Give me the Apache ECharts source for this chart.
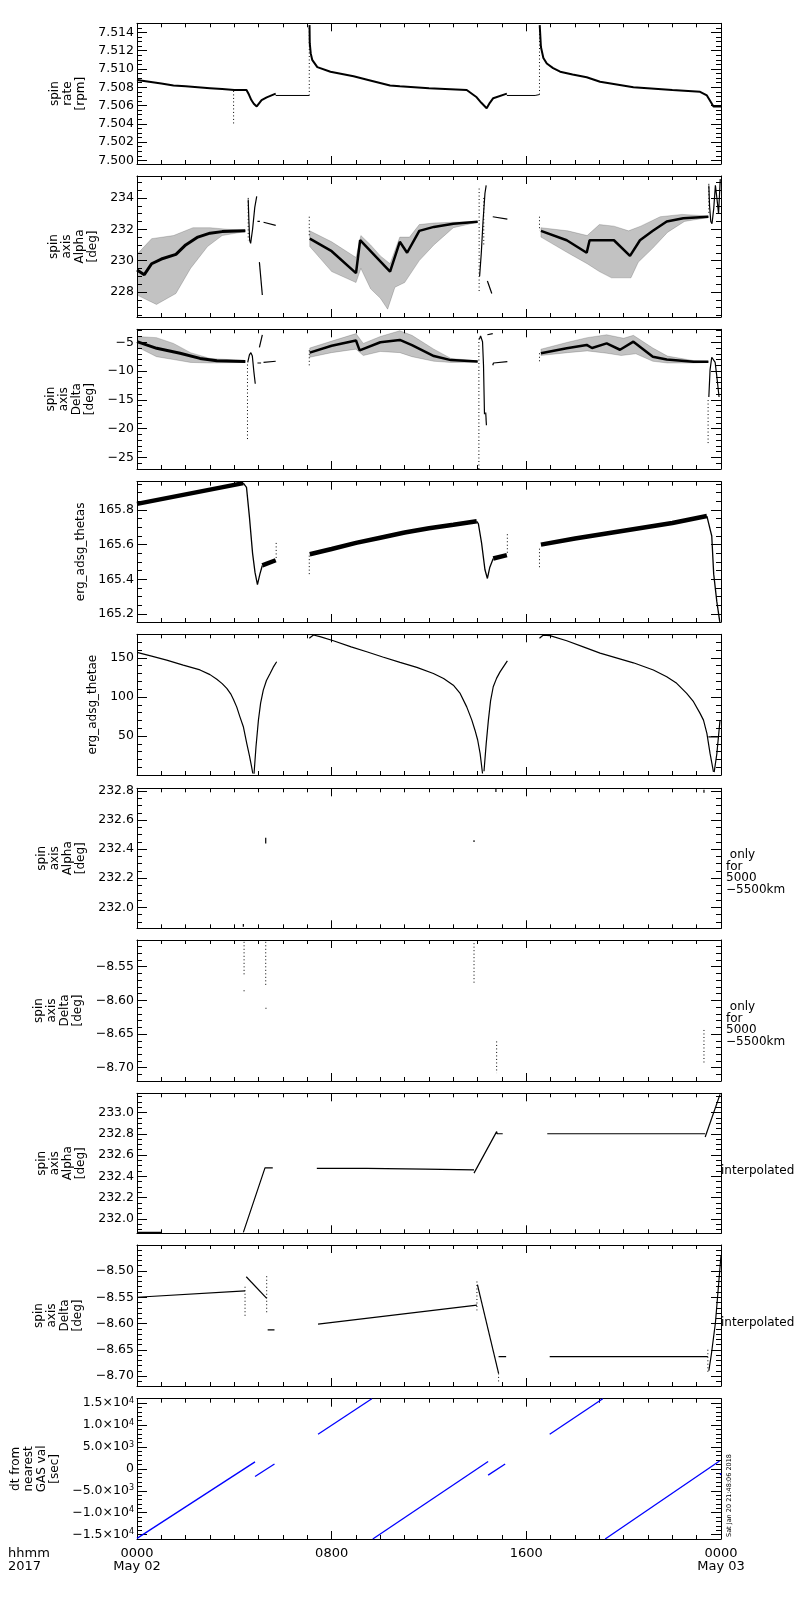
<!DOCTYPE html>
<html><head><meta charset="utf-8">
<script src="https://cdn.jsdelivr.net/npm/echarts@6/dist/echarts.min.js"></script>
<style>html,body{margin:0;padding:0;background:#fff}#c{width:800px;height:1600px}</style>
</head><body><div id="c"></div>
<script>
// ---------------- x axis (hours of 2017 May 02) ----------------
const xTickLabels = {0:'0000\nMay 02', 8:'0800', 16:'1600', 24:'0000\nMay 03'};

// ---------------- panel 1: spin rate [rpm] ----------------
const rateA = [[0,7.5088],[0.5,7.5086],[1,7.5084],[1.5,7.5082],[2,7.5081],[2.5,7.5080],[3,7.5079],[3.5,7.5078],[4,7.5077],[4.5,7.5077],[4.6,7.5072],[4.7,7.5066],[4.8,7.5062],[4.92,7.5059],[5.0,7.5061],[5.12,7.5066],[5.33,7.5069],[5.7,7.5073]];
const rateFlat1 = [[5.7,7.5071],[7.08,7.5071]];
const rateB = [[7.09,7.5148],[7.1,7.5128],[7.14,7.5117],[7.2,7.5110],[7.41,7.5102],[7.95,7.5097],[8.9,7.5092],[9.5,7.5088],[10.4,7.5082],[10.8,7.5081],[12,7.5079],[13.55,7.5077],[13.96,7.5069],[14.15,7.5063],[14.37,7.5057],[14.5,7.5063],[14.64,7.5068],[15.2,7.5073]];
const rateFlat2 = [[15.2,7.5071],[16.36,7.5071],[16.54,7.5072]];
const rateC = [[16.55,7.5148],[16.6,7.5124],[16.7,7.5112],[16.84,7.5106],[17.1,7.5101],[17.39,7.5097],[17.9,7.5094],[18.48,7.5091],[19.03,7.5086],[20.4,7.5080],[22,7.5077],[23.14,7.5075],[23.42,7.5071],[23.6,7.5063],[23.69,7.5059],[24,7.5059]];
const rateDots = [[[3.97,7.5076],[3.97,7.5040]],[[7.08,7.5071],[7.08,7.5148]],[[16.54,7.5072],[16.54,7.5148]]];

// ---------------- panel 2: spin axis Alpha [deg] ----------------
const alphaUpA = [[0,230.4],[0.6,231.4],[1.5,231.6],[2.3,232.1],[3,232.1],[3.7,232.0],[4.45,231.95]];
const alphaLoA = [[0,227.8],[0.8,227.2],[1.6,227.9],[2.2,229.5],[2.9,230.9],[3.5,231.6],[4.45,231.85]];
const alphaMidA = [[0,229.4],[0.3,229.1],[0.6,229.8],[1.0,230.1],[1.6,230.4],[2.0,231.0],[2.5,231.5],[3.0,231.75],[3.5,231.85],[4.45,231.9]];
const alphaUpB = [[7.1,231.9],[8,231.2],[9,230.2],[9.2,231.6],[9.6,231.0],[10,230.3],[10.4,229.8],[10.8,231.5],[11.2,231.5],[11.6,232.3],[12.2,232.4],[13,232.45],[14,232.5]];
const alphaLoB = [[7.1,230.9],[8,229.3],[9,228.6],[9.2,229.5],[9.6,228.2],[10,227.6],[10.3,226.9],[10.6,228.3],[11,228.6],[11.6,230.0],[12.2,231.0],[13,232.1],[14,232.45]];
const alphaMidB = [[7.1,231.4],[8,230.6],[9,229.2],[9.17,231.3],[10.4,229.3],[10.8,231.2],[11.1,230.5],[11.6,231.9],[12.2,232.15],[13,232.35],[14,232.48]];
const alphaUpC = [[16.6,232.1],[17.7,231.9],[18.5,231.6],[19,232.3],[19.6,232.2],[20.2,231.9],[20.7,232.2],[21.5,232.8],[22.4,232.95],[23.48,232.85]];
const alphaLoC = [[16.6,231.5],[17.7,230.5],[18.5,229.8],[19,229.3],[19.5,228.9],[20.3,228.9],[20.6,229.9],[21.2,230.8],[21.8,231.8],[22.5,232.5],[23.48,232.75]];
const alphaMidC = [[16.6,231.9],[17.66,231.3],[18.48,230.5],[18.6,231.3],[19.6,231.3],[20.26,230.3],[20.67,231.3],[21.2,231.9],[21.77,232.5],[22.45,232.7],[23.48,232.8]];
const alphaLines = [
  [[4.57,233.9],[4.6,232.5],[4.63,231.3],[4.67,231.1],[4.75,232.0],[4.84,233.4],[4.92,234.1]],
  [[4.95,232.5],[5.05,232.5]],
  [[5.2,232.45],[5.7,232.25]],
  [[5.03,229.9],[5.15,227.8]],
  [[14.08,229.0],[14.15,230.5],[14.22,232.5],[14.3,234.3],[14.35,234.8]],
  [[14.4,228.7],[14.58,227.9]],
  [[14.62,232.8],[15.22,232.65]],
  [[23.5,234.8],[23.53,233.5],[23.58,232.5],[23.63,232.35],[23.7,233.3],[23.77,234.8],[23.83,234.0],[23.9,233.0],[23.97,235.2]]
];
const alphaDots = [[[4.57,234.0],[4.57,231.3]],[[7.08,232.8],[7.08,231.5]],[[14.06,234.6],[14.06,228.0]],[[14.25,234.0],[14.25,231.0]],[[16.54,232.8],[16.54,231.9]],[[23.5,234.9],[23.5,232.9]]];

// ---------------- panel 3: spin axis Delta [deg] ----------------
const deltaUpA = [[0,-4.0],[0.8,-4.2],[1.5,-5.2],[2.2,-6.8],[3,-7.8],[4.45,-8.2]];
const deltaLoA = [[0,-5.8],[0.8,-7.5],[1.5,-8.0],[2.2,-8.5],[3,-8.6],[4.45,-8.5]];
const deltaMidA = [[0,-4.9],[0.81,-6.05],[1.77,-6.9],[2.59,-7.8],[3.28,-8.2],[4.45,-8.35]];
const deltaUpB = [[7.1,-6.0],[8,-4.8],[9,-3.5],[9.3,-5.2],[10,-4.0],[10.8,-3.0],[11.3,-3.8],[12.2,-6.2],[12.9,-7.8],[14,-8.25]];
const deltaLoB = [[7.1,-7.6],[8,-6.8],[9,-6.2],[9.3,-7.3],[10,-6.6],[10.8,-6.8],[11.3,-7.5],[12.2,-8.3],[12.9,-8.5],[14,-8.45]];
const deltaMidB = [[7.1,-6.8],[8,-5.6],[9,-4.7],[9.15,-6.4],[10,-5.0],[10.8,-4.6],[11.3,-5.5],[12.2,-7.4],[12.9,-8.1],[14,-8.35]];
const deltaUpC = [[16.6,-6.2],[17.7,-5.0],[18.5,-4.2],[19.3,-3.7],[20.0,-4.3],[20.4,-3.8],[21.2,-6.0],[21.8,-7.4],[22.9,-8.2],[23.48,-8.3]];
const deltaLoC = [[16.6,-7.3],[17.7,-6.8],[18.5,-6.5],[19.3,-6.9],[19.9,-7.3],[20.5,-7.0],[21.2,-8.3],[21.8,-8.6],[22.9,-8.6],[23.48,-8.5]];
const deltaMidC = [[16.6,-6.9],[17.66,-6.05],[18.48,-5.46],[18.7,-6.0],[19.3,-5.2],[19.85,-6.3],[20.4,-4.9],[21.2,-7.5],[21.77,-8.0],[22.87,-8.4],[23.48,-8.4]];
const deltaLines = [
  [[4.55,-8.5],[4.62,-7.2],[4.68,-6.8],[4.74,-7.4],[4.8,-10.0],[4.86,-12.2]],
  [[5.03,-5.9],[5.15,-3.7]],
  [[4.95,-8.6],[5.1,-8.6]],
  [[5.2,-8.5],[5.7,-8.3]],
  [[14.07,-4.5],[14.12,-3.9],[14.2,-4.9],[14.24,-9.0],[14.28,-17.5]],
  [[14.33,-17.2],[14.36,-19.4]],
  [[14.4,-3.7],[14.62,-3.5]],
  [[14.62,-9.0],[14.65,-8.6],[15.22,-8.35]],
  [[23.5,-14.5],[23.55,-9.8],[23.62,-7.6],[23.69,-7.4],[23.76,-8.5],[23.83,-11.0],[23.92,-14.5]]
];
const deltaDots = [[[4.54,-21.8],[4.54,-8.5]],[[7.08,-9.0],[7.08,-6.4]],[[14.05,-27.0],[14.05,-4.3]],[[16.54,-8.3],[16.54,-6.5]],[[23.47,-22.5],[23.47,-14.7]]];

// ---------------- panel 4: erg_adsg_thetas ----------------
const thetasBand = [
  [[0,165.835],[4.37,165.955]],
  [[5.15,165.48],[5.7,165.51]],
  [[7.1,165.545],[8,165.575],[9,165.61],[10,165.64],[11,165.67],[12,165.695],[13,165.715],[13.96,165.735]],
  [[14.64,165.52],[15.2,165.54]],
  [[16.6,165.60],[18,165.635],[20,165.68],[22,165.725],[23.42,165.765]]
];
const thetasDrop = [
  [[4.37,165.955],[4.5,165.93],[4.62,165.76],[4.75,165.55],[4.85,165.44],[4.95,165.37],[5.0,165.36],[5.05,165.43],[5.15,165.48]],
  [[13.96,165.735],[14.03,165.72],[14.16,165.61],[14.3,165.455],[14.4,165.405],[14.5,165.47],[14.64,165.52]],
  [[23.42,165.765],[23.5,165.76],[23.62,165.65],[23.7,165.43],[23.83,165.27],[23.95,165.155]]
];
const thetasDots = [[[5.72,165.61],[5.72,165.52]],[[7.08,165.43],[7.08,165.55]],[[15.22,165.66],[15.22,165.54]],[[16.54,165.47],[16.54,165.58]]];

// ---------------- panel 5: erg_adsg_thetae ----------------
const thetaeLines = [
  [[0,156.9],[0.6,152.2],[1.22,147],[1.9,140.7],[2.59,134.5],[3.0,128.5],[3.28,122.5],[3.5,117],[3.69,110.9],[3.85,104],[3.96,97],[4.1,87],[4.23,74.6],[4.37,62],[4.51,40.7],[4.62,25],[4.71,10.8],[4.76,2.2]],
  [[4.81,2],[4.89,36.3],[4.99,70.4],[5.08,92],[5.19,108.7],[5.32,121],[5.47,130],[5.6,138],[5.74,144.9]],
  [[7.08,174.9],[7.25,179.1],[7.52,177],[8.07,171.7],[8.8,164],[9.44,157.7],[10.1,151],[10.81,144.1],[11.5,137.7],[12.18,130],[12.6,123.5],[13,115],[13.28,104.5],[13.55,87.3],[13.76,70.4],[13.89,57.5],[14.0,45],[14.1,28],[14.2,2.2]],
  [[14.26,5],[14.35,40],[14.44,70],[14.53,95],[14.64,113],[14.78,124],[14.92,132],[15.22,146]],
  [[16.54,174.9],[16.7,179],[16.97,178.3],[17.66,171.7],[18.34,164],[19.03,156],[20.4,143.6],[21.22,134.4],[21.77,125.7],[22.18,117.4],[22.59,104.5],[22.87,93.9],[23.14,79],[23.28,70.4],[23.42,53.4],[23.55,27.9],[23.69,4.3]],
  [[23.72,4],[23.83,27.6],[23.96,70.4]],
  [[23.48,49],[23.9,49]]
];

// ---------------- panel 6: spin axis Alpha, only 5000-5500km ----------------
const alpha5kMarks = [[[4.37,231.865],[4.37,231.885]],[[5.29,232.44],[5.29,232.48]],[[13.85,232.45],[13.85,232.462]],[[14.75,232.795],[14.75,232.82]],[[23.3,232.79],[23.3,232.81]]];

// ---------------- panel 7: spin axis Delta, only 5000-5500km ----------------
const delta5kDots = [[[4.4,-8.513],[4.4,-8.565]],[[4.4,-8.585],[4.4,-8.589]],[[5.29,-8.513],[5.29,-8.58]],[[5.3,-8.611],[5.3,-8.615]],[[13.85,-8.515],[13.85,-8.577]],[[14.78,-8.661],[14.78,-8.708]],[[23.3,-8.644],[23.3,-8.693]]];

// ---------------- panel 8: spin axis Alpha interpolated ----------------
const alphaInterp = [
  [[0,231.874],[1,231.874]],
  [[4.37,231.874],[5.26,232.48],[5.58,232.48]],
  [[7.39,232.475],[9.44,232.475],[9.45,232.467],[11.84,232.467],[11.9,232.46],[13.85,232.46]],
  [[13.85,232.43],[13.86,232.44],[14.78,232.82],[14.8,232.80],[15.03,232.80]],
  [[16.86,232.80],[23.35,232.80]],
  [[23.35,232.77],[23.96,233.17]]
];

// ---------------- panel 9: spin axis Delta interpolated ----------------
const deltaInterp = [
  [[0,-8.550],[4.44,-8.538]],
  [[4.49,-8.511],[5.33,-8.552]],
  [[5.37,-8.612],[5.65,-8.612]],
  [[7.44,-8.601],[13.97,-8.565]],
  [[13.99,-8.526],[14.86,-8.695]],
  [[14.86,-8.663],[15.17,-8.663]],
  [[16.96,-8.663],[23.46,-8.663]],
  [[23.5,-8.69],[23.6,-8.66],[23.77,-8.599],[24,-8.47]]
];
const deltaInterpDots = [[[4.44,-8.53],[4.44,-8.588]],[[5.33,-8.51],[5.33,-8.58]],[[13.97,-8.52],[13.97,-8.575]],[[14.86,-8.695],[14.86,-8.712]],[[23.46,-8.65],[23.46,-8.692]]];

// ---------------- panel 10: dt from nearest GAS val [sec] ----------------
const dtLines = [
  [[0,-15860],[4.85,1600]],
  [[4.85,-1750],[5.65,1100]],
  [[7.44,7900],[9.65,16000]],
  [[9.69,-16000],[14.43,1660]],
  [[14.43,-1440],[15.13,1100]],
  [[16.96,7900],[19.14,16000]],
  [[19.24,-16000],[23.94,1800]],
  [[23.97,-1400],[24,-1000]]
];
const dtTickLabels = {'15000':'1.5×10{s|4}','10000':'1.0×10{s|4}','5000':'5.0×10{s|3}','0':'0'};

// ---------------- layout ----------------
const FONT = 'DejaVu Sans';
const gridTops = [23.3,176,329.3,481.7,634.3,788.3,940,1093.3,1245,1398.7];
const gridHeights = [140.7,141,139.7,140.3,140.7,140,141,140,141,140.3];

function isMul(v, iv){ const r = v/iv; return Math.abs(r-Math.round(r)) < 1e-4; }
function minus(s){ return s.replace('-', '\u2212'); }
function decFmt(iv, dec){ return v => isMul(v, iv) ? minus((Math.abs(v) < 1e-9 ? 0 : v).toFixed(dec)) : ''; }

const panels = [
  {min:7.4996, max:7.5150, iv:0.002, minor:4, fmt:decFmt(0.002,3), name:'spin\nrate\n[rpm]', gap:49},
  {min:226.4, max:235.4, iv:2, minor:4, fmt:decFmt(2,0), name:'spin\naxis\nAlpha\n[deg]', gap:37},
  {min:-27.0, max:-2.75, iv:5, minor:5, fmt:decFmt(5,0), name:'spin\naxis\nDelta\n[deg]', gap:38},
  {min:165.154, max:165.963, iv:0.2, minor:4, fmt:decFmt(0.2,1), name:'erg_adsg_thetas', gap:50},
  {min:0.3, max:180, iv:50, minor:5, fmt:decFmt(50,0), name:'erg_adsg_thetae', gap:37},
  {min:231.855, max:232.82, iv:0.2, minor:4, fmt:decFmt(0.2,1), name:'spin\naxis\nAlpha\n[deg]', gap:50},
  {min:-8.7198, max:-8.5103, iv:0.05, minor:5, fmt:decFmt(0.05,2), name:'spin\naxis\nDelta\n[deg]', gap:52},
  {min:231.865, max:233.18, iv:0.2, minor:4, fmt:decFmt(0.2,1), name:'spin\naxis\nAlpha\n[deg]', gap:49},
  {min:-8.719, max:-8.4505, iv:0.05, minor:5, fmt:decFmt(0.05,2), name:'spin\naxis\nDelta\n[deg]', gap:52},
  {min:-16000, max:16000, iv:5000, minor:5, fmt:v => { if(!isMul(v,5000)) return ''; const a=Math.round(v); const s=dtTickLabels[String(Math.abs(a))]; return s ? (a<0?'\u2212':'')+s : ''; }, name:'dt from\nnearest\nGAS val\n[sec]', gap:75, rich:true}
];

const grids = [], xAxes = [], yAxes = [];
panels.forEach((p, i) => {
  grids.push({left:137, width:584, top:gridTops[i], height:gridHeights[i], containLabel:false});
  [false,true].forEach(top => {
    const last = (i === panels.length-1 && !top);
    xAxes.push({type:'value', gridIndex:i, position: top?'top':'bottom', min:0, max:24, interval:8,
      axisLine:{show:true, onZero:false, lineStyle:{color:'#000', width:1}},
      axisTick:{show:true, inside:true, length:8, lineStyle:{color:'#000'}},
      minorTick:{show:true, splitNumber:8, length:4, lineStyle:{color:'#000'}},
      splitLine:{show:false}, minorSplitLine:{show:false},
      axisLabel: last ? {show:true, margin:8, fontFamily:FONT, fontSize:13, lineHeight:13, color:'#000',
        showMinLabel:true, showMaxLabel:true, formatter: v => xTickLabels[Math.round(v)] || ''} : {show:false}
    });
  });
  [false,true].forEach(right => {
    const ax = {type:'value', gridIndex:i, position: right?'right':'left', min:p.min, max:p.max,
      minInterval:p.iv, maxInterval:p.iv, splitNumber:5,
      axisLine:{show:true, onZero:false, lineStyle:{color:'#000', width:1}},
      axisTick:{show:true, inside:true, length:10, lineStyle:{color:'#000'}},
      minorTick:{show:true, splitNumber:p.minor, length:5, lineStyle:{color:'#000'}},
      splitLine:{show:false}, minorSplitLine:{show:false},
      axisLabel: right ? {show:false} : {show:true, margin:3, fontFamily:FONT, fontSize:12.5, color:'#000',
        showMinLabel:true, showMaxLabel:true, formatter:p.fmt,
        rich: p.rich ? {s:{fontFamily:FONT, fontSize:8, verticalAlign:'top', lineHeight:8, color:'#000'}} : undefined}
    };
    if (!right) {
      ax.name = p.name; ax.nameLocation = 'middle'; ax.nameRotate = 90; ax.nameGap = p.gap;
      ax.nameTextStyle = {fontFamily:FONT, fontSize:12, lineHeight:13, color:'#000'};
    }
    yAxes.push(ax);
  });
});

const series = [];
function base(panel){ return {xAxisIndex:2*panel, yAxisIndex:2*panel, silent:true, animation:false}; }
function lineS(panel, data, width, color, dash){
  series.push(Object.assign(base(panel), {type:'line', data:data, symbol:'none', showSymbol:false, connectNulls:false,
    lineStyle:{color:color||'#000', width:width||1, type: dash||'solid'}}));
}
function segs(panel, list, width, color, dash){ list.forEach(s => lineS(panel, s, width, color, dash)); }
function band(panel, up, lo){
  series.push(Object.assign(base(panel), {type:'custom', data:[[up[0][0], up[0][1]]], clip:true,
    renderItem:(params, api) => {
      const pts = up.concat(lo.slice().reverse()).map(q => api.coord(q));
      return {type:'polygon', shape:{points:pts}, style:{fill:'rgba(0,0,0,0.24)', stroke:'rgba(0,0,0,0.35)', lineWidth:0.5}};
    }}));
}
const DOT = [1,2.5];

// panel 1
lineS(0, rateA, 2); lineS(0, rateFlat1, 1); lineS(0, rateB, 2); lineS(0, rateFlat2, 1); lineS(0, rateC, 2);
segs(0, rateDots, 1, '#000', DOT);
// panel 2
band(1, alphaUpA, alphaLoA); band(1, alphaUpB, alphaLoB); band(1, alphaUpC, alphaLoC);
lineS(1, alphaMidA, 3); lineS(1, alphaMidB, 2.5); lineS(1, alphaMidC, 2.5);
segs(1, alphaLines, 1.2); segs(1, alphaDots, 1, '#000', DOT);
// panel 3
band(2, deltaUpA, deltaLoA); band(2, deltaUpB, deltaLoB); band(2, deltaUpC, deltaLoC);
lineS(2, deltaMidA, 3); lineS(2, deltaMidB, 2.5); lineS(2, deltaMidC, 2.5);
segs(2, deltaLines, 1.2); segs(2, deltaDots, 1, '#000', DOT);
// panel 4
segs(3, thetasBand, 4.5); segs(3, thetasDrop, 1.3); segs(3, thetasDots, 1, '#000', DOT);
// panel 5
segs(4, thetaeLines, 1.2);
// panel 6
segs(5, alpha5kMarks, 1.2);
// panel 7
segs(6, delta5kDots, 1, '#000', DOT);
// panel 8
segs(7, alphaInterp, 1.2);
// panel 9
segs(8, deltaInterp, 1.2); segs(8, deltaInterpDots, 1, '#000', DOT);
// panel 10
segs(9, dtLines, 1.3, '#0000ff');

const txt = (s, size) => ({text:s, font: size + 'px "' + FONT + '"', fill:'#000'});
const chart = echarts.init(document.getElementById('c'), null, {renderer:'canvas'});
chart.setOption({
  backgroundColor:'#fff', animation:false,
  grid:grids, xAxis:xAxes, yAxis:yAxes, series:series,
  graphic:[
    {type:'text', left:8, top:1547, style:Object.assign(txt('hhmm\n2017', 13), {lineHeight:13})},
    {type:'text', left:726, top:849, style:Object.assign(txt(' only\nfor\n5000\n\u22125500km', 12), {lineHeight:11.5})},
    {type:'text', left:726, top:1001, style:Object.assign(txt(' only\nfor\n5000\n\u22125500km', 12), {lineHeight:11.5})},
    {type:'text', left:721, top:1165, style:txt('interpolated', 12)},
    {type:'text', left:721, top:1317, style:txt('interpolated', 12)},
    {type:'text', x:729, y:1537, rotation:Math.PI/2, style:Object.assign(txt('Sat Jan 20 21:48:06 2018', 6.5), {textAlign:'left', textVerticalAlign:'middle'})}
  ]
});
</script></body></html>
